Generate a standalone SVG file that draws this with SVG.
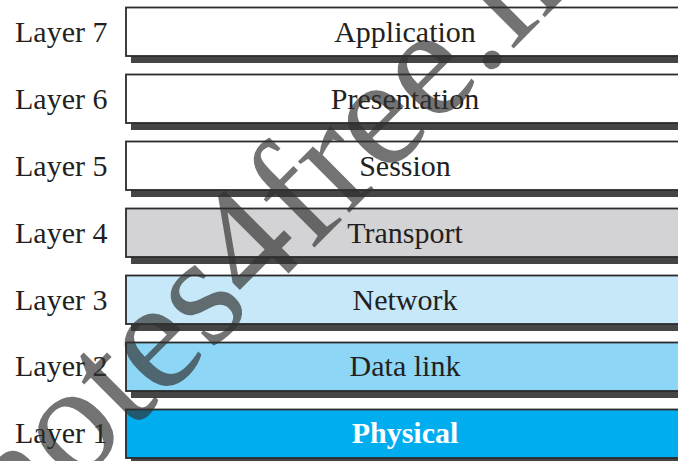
<svg xmlns="http://www.w3.org/2000/svg" width="678" height="461" viewBox="0 0 678 461">
<style>
.lbl{font-family:"Liberation Serif","Times New Roman",serif;font-size:30px;fill:#231f20}
.name{font-family:"Liberation Serif","Times New Roman",serif;font-size:30px;fill:#231f20;text-anchor:middle}
.box{stroke:#2b2b2b;stroke-width:1.8}
.sh{fill:#454545}
.wm{font-family:"Liberation Serif","Times New Roman",serif;font-size:158px;fill:#303030;fill-opacity:0.68}
</style>
<rect width="678" height="461" fill="#ffffff"/>
<g id="layer7">
<rect class="sh" x="131" y="14" width="560" height="49"/>
<rect class="box" x="126" y="7.5" width="560" height="48.5" fill="#ffffff"/>
<text class="lbl" x="15" y="41.5">Layer 7</text>
<text class="name" x="405" y="41.5">Application</text>
</g>
<g id="layer6">
<rect class="sh" x="131" y="81" width="560" height="49"/>
<rect class="box" x="126" y="74.5" width="560" height="48.5" fill="#ffffff"/>
<text class="lbl" x="15" y="108.5">Layer 6</text>
<text class="name" x="405" y="108.5">Presentation</text>
</g>
<g id="layer5">
<rect class="sh" x="131" y="148" width="560" height="49"/>
<rect class="box" x="126" y="141.5" width="560" height="48.5" fill="#ffffff"/>
<text class="lbl" x="15" y="175.5">Layer 5</text>
<text class="name" x="405" y="175.5">Session</text>
</g>
<g id="layer4">
<rect class="sh" x="131" y="215" width="560" height="49"/>
<rect class="box" x="126" y="208.5" width="560" height="48.5" fill="#d3d3d5"/>
<text class="lbl" x="15" y="242.5">Layer 4</text>
<text class="name" x="405" y="242.5">Transport</text>
</g>
<g id="layer3">
<rect class="sh" x="131" y="282" width="560" height="49"/>
<rect class="box" x="126" y="275.5" width="560" height="48.5" fill="#c6e8f9"/>
<text class="lbl" x="15" y="309.5">Layer 3</text>
<text class="name" x="405" y="309.5">Network</text>
</g>
<g id="layer2">
<rect class="sh" x="131" y="349" width="560" height="49"/>
<rect class="box" x="126" y="342.5" width="560" height="48.5" fill="#8dd6f6"/>
<text class="lbl" x="15" y="376">Layer 2</text>
<text class="name" x="405" y="376">Data link</text>
</g>
<g id="layer1">
<rect class="sh" x="131" y="416" width="560" height="49"/>
<rect class="box" x="126" y="409.5" width="560" height="48.5" fill="#00adee"/>
<text class="lbl" x="15" y="443">Layer 1</text>
<text class="name" x="405" y="443" style="fill:#ffffff;font-weight:bold">Physical</text>
</g>
<g id="connectors"></g>
<text class="wm" x="18" y="544" transform="rotate(-45 18 544)">notes4free.in</text>
</svg>
